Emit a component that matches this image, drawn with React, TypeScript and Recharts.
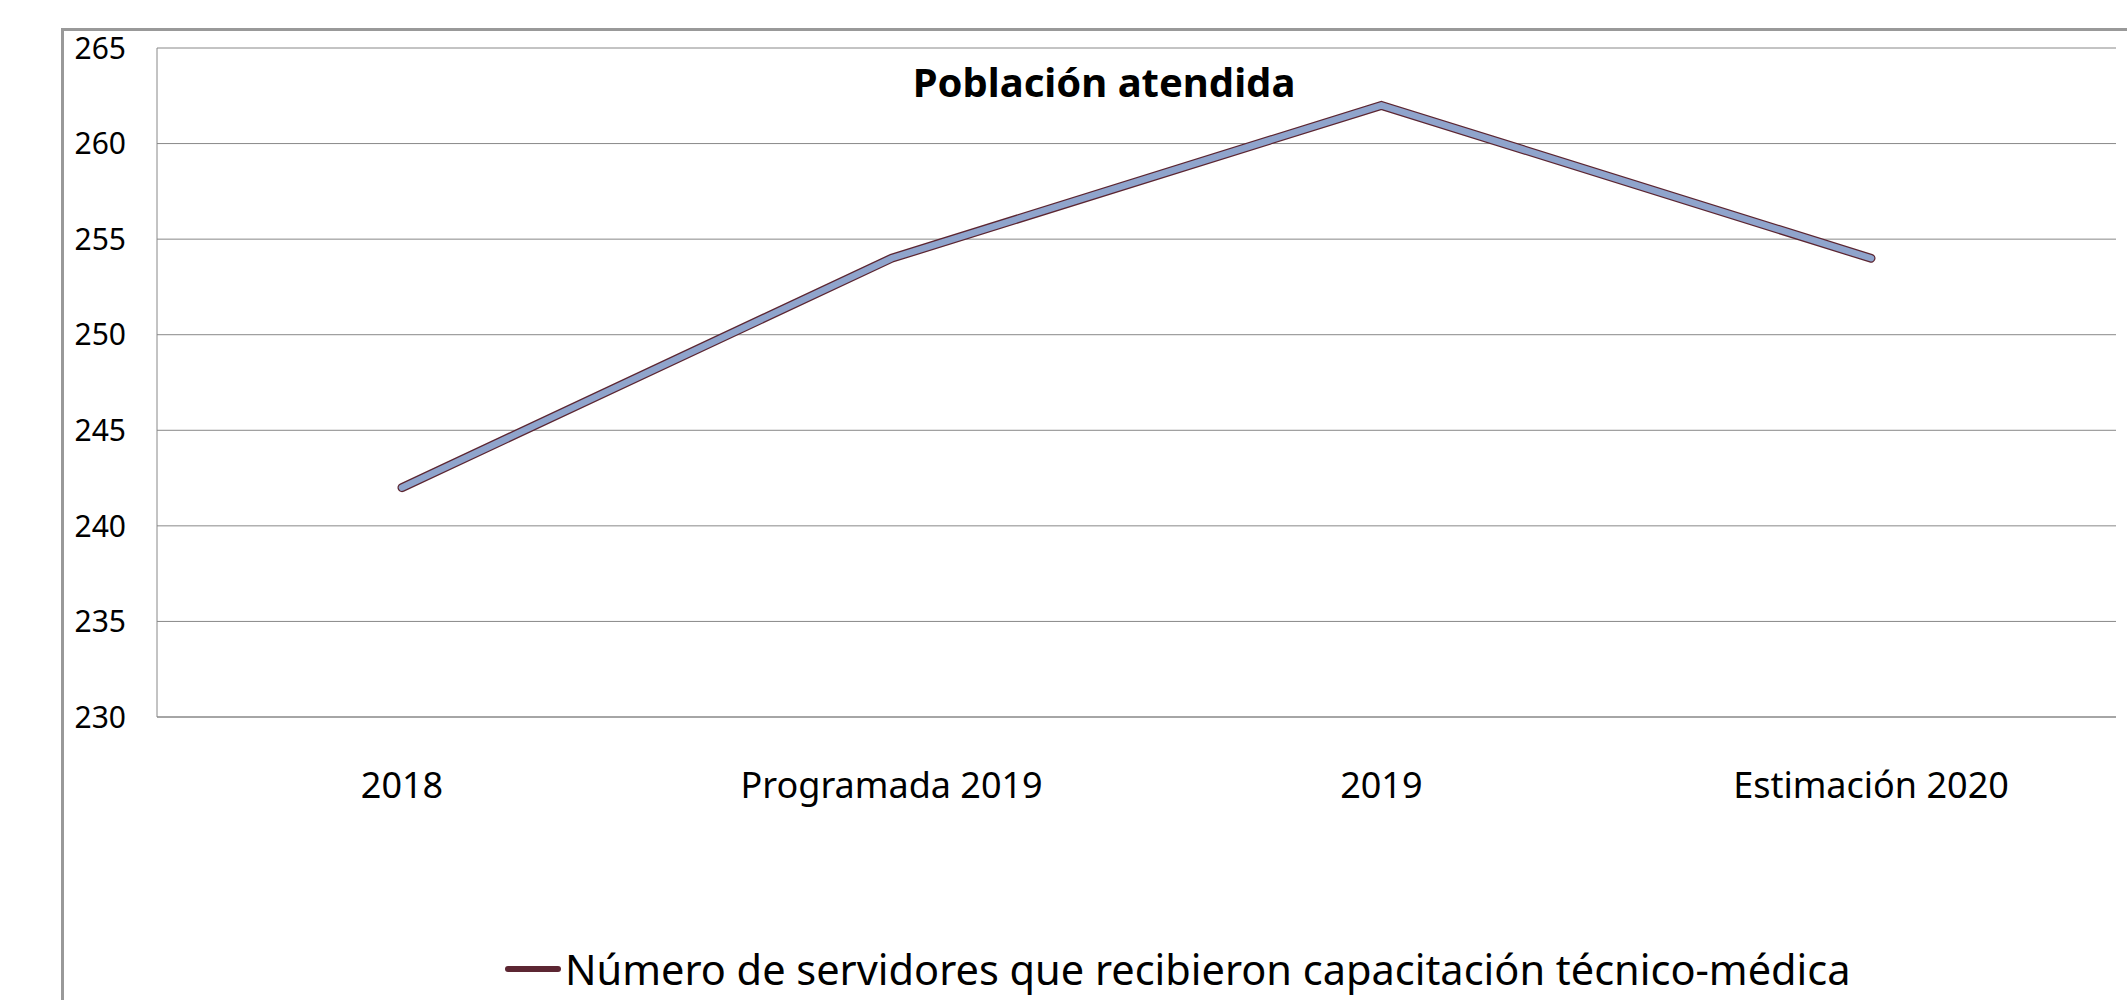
import React from "react";
import {
  LineChart,
  Line,
  XAxis,
  YAxis,
  CartesianGrid,
  Legend,
} from "recharts";

const categories = ["2018", "Programada 2019", "2019", "Estimación 2020"];
const servidores = [242, 254, 262, 254];
const yTicks = [230, 235, 240, 245, 250, 255, 260, 265];

const seriesName = "Número de servidores que recibieron capacitación técnico-médica";

const data = categories.map((c, i) => ({ name: c, value: servidores[i] }));

const FONT = "'Noto Sans', sans-serif";

// legend box is 56px tall; recharts takes it out of the bottom of the plot
function LegendContent() {
  return (
    <div
      style={{
        display: "flex",
        alignItems: "center",
        fontFamily: FONT,
        height: 56,
      }}
    >
      <div
        style={{
          width: 56,
          height: 6,
          borderRadius: 3,
          background: "#5C2632",
          marginRight: 4,
        }}
      />
      <span style={{ fontSize: 41.5, lineHeight: "56px", color: "#000" }}>
        {seriesName}
      </span>
    </div>
  );
}

export default function App() {
  return (
    <div
      style={{
        position: "absolute",
        top: 0,
        left: 0,
        width: 2127,
        height: 1000,
        background: "#fff",
        overflow: "hidden",
      }}
    >
      <div
        style={{
          position: "absolute",
          left: 61,
          top: 28,
          right: 0,
          bottom: 0,
          borderLeft: "3px solid #999",
          borderTop: "3px solid #999",
        }}
      />
      <div style={{ position: "absolute", left: 0, top: 0 }}>
        <LineChart
          width={2127}
          height={1000}
          data={data}
          margin={{ top: 48, right: 11, bottom: 0, left: 0 }}
        >
          <CartesianGrid vertical={false} stroke="#888" strokeWidth={1} />
          <XAxis
            dataKey="name"
            height={227}
            padding={{ left: 245, right: 245 }}
            axisLine={{ stroke: "#888" }}
            tickLine={false}
            tickSize={0}
            tickMargin={55}
            interval={0}
            tick={{ fontSize: 36, fill: "#000", fontFamily: FONT }}
          />
          <YAxis
            width={157}
            domain={[230, 265]}
            ticks={yTicks}
            interval={0}
            axisLine={{ stroke: "#888" }}
            tickLine={false}
            tickSize={0}
            tickMargin={31}
            tick={{ fontSize: 30, fill: "#000", fontFamily: FONT }}
          />
          <Legend
            content={<LegendContent />}
            wrapperStyle={{ left: 505, top: 941, width: "auto" }}
          />
          <Line
            dataKey="value"
            name={seriesName}
            stroke="#5C2632"
            strokeWidth={9}
            dot={false}
            activeDot={false}
            strokeLinecap="round"
            isAnimationActive={false}
          />
          <Line
            dataKey="value"
            legendType="none"
            stroke="#8FA4CC"
            strokeWidth={6.5}
            dot={false}
            activeDot={false}
            strokeLinecap="round"
            isAnimationActive={false}
          />
        </LineChart>
      </div>
      <div
        style={{
          position: "absolute",
          left: 1104,
          top: 81,
          transform: "translate(-50%, -50%)",
          fontFamily: FONT,
          fontWeight: 700,
          fontSize: 40,
          color: "#000",
          whiteSpace: "nowrap",
        }}
      >
        Población atendida
      </div>
    </div>
  );
}
